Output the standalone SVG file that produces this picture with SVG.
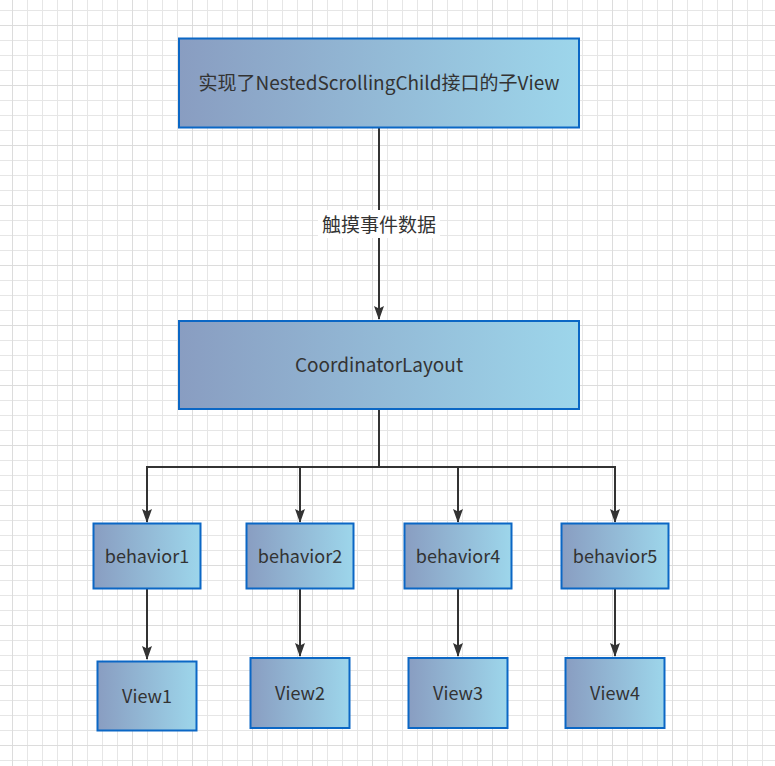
<svg xmlns="http://www.w3.org/2000/svg" width="775" height="766" viewBox="0 0 775 766">
<defs>
  <pattern id="grid" x="12" y="10" width="15" height="15" patternUnits="userSpaceOnUse">
    <path d="M0.5 0 V15 M0 0.5 H15" fill="none" stroke="#e6e6e6" stroke-width="1"/>
  </pattern>
  <pattern id="gridMajor" x="12" y="25" width="60" height="60" patternUnits="userSpaceOnUse">
    <path d="M0.5 0 V60 M0 0.5 H60" fill="none" stroke="#dcdcdc" stroke-width="1"/>
  </pattern>
  <linearGradient id="fill" x1="0" y1="0" x2="1" y2="0">
    <stop offset="0" stop-color="#899dc1"/>
    <stop offset="1" stop-color="#9dd6eb"/>
  </linearGradient>
  <marker id="arrow" viewBox="0 0 14 10" refX="13" refY="5" markerWidth="14" markerHeight="10" markerUnits="userSpaceOnUse" orient="auto">
    <path d="M0 0 L14 5 L0 10 L2.5 5 Z" fill="#333333"/>
  </marker>
  <style>
    .box { fill: url(#fill); stroke: #0b67c5; stroke-width: 2; }
    .label { font-family: "Noto Sans CJK SC", "Noto Sans", sans-serif; fill: #333333; text-anchor: middle; dominant-baseline: central; }
    .big { font-size: 19px; }
    .small { font-size: 18px; }
    .edge { fill: none; stroke: #333333; stroke-width: 2; }
  </style>
</defs>
<rect width="775" height="766" fill="#ffffff"/>
<rect width="775" height="766" fill="url(#grid)"/>
<rect width="775" height="766" fill="url(#gridMajor)"/>

<g id="connectors">
  <path class="edge" d="M379 128 V319" marker-end="url(#arrow)"/>
  <rect x="318" y="210" width="122" height="28" fill="#ffffff"/>
  <text class="label big" x="379" y="223">触摸事件数据</text>
  <path class="edge" d="M379 409 V467 H147 V522" marker-end="url(#arrow)"/>
  <path class="edge" d="M379 467 H300 V522" marker-end="url(#arrow)"/>
  <path class="edge" d="M379 467 H458 V522" marker-end="url(#arrow)"/>
  <path class="edge" d="M379 467 H615 V522" marker-end="url(#arrow)"/>
  <path class="edge" d="M147 589 V659" marker-end="url(#arrow)"/>
  <path class="edge" d="M300 589 V656" marker-end="url(#arrow)"/>
  <path class="edge" d="M458 589 V656" marker-end="url(#arrow)"/>
  <path class="edge" d="M615 589 V656" marker-end="url(#arrow)"/>
</g>

<g id="child-view">
  <rect class="box" x="179" y="38.5" width="400" height="89"/>
  <text class="label big" x="379" y="81.5">实现了NestedScrollingChild接口的子View</text>
</g>
<g id="coordinator-layout">
  <rect class="box" x="179" y="321" width="400" height="88"/>
  <text class="label big" x="379" y="363.5">CoordinatorLayout</text>
</g>
<g id="behavior1">
  <rect class="box" x="93.5" y="523.5" width="107" height="65"/>
  <text class="label small" x="147" y="554.5">behavior1</text>
</g>
<g id="behavior2">
  <rect class="box" x="246.5" y="523.5" width="107" height="65"/>
  <text class="label small" x="300" y="554.5">behavior2</text>
</g>
<g id="behavior4">
  <rect class="box" x="404.5" y="523.5" width="107" height="65"/>
  <text class="label small" x="458" y="554.5">behavior4</text>
</g>
<g id="behavior5">
  <rect class="box" x="561.5" y="523.5" width="107" height="65"/>
  <text class="label small" x="615" y="554.5">behavior5</text>
</g>
<g id="view1">
  <rect class="box" x="97.5" y="661.5" width="99" height="69"/>
  <text class="label small" x="147" y="694.5">View1</text>
</g>
<g id="view2">
  <rect class="box" x="250.5" y="658" width="99" height="70"/>
  <text class="label small" x="300" y="691.5">View2</text>
</g>
<g id="view3">
  <rect class="box" x="408.5" y="658" width="99" height="70"/>
  <text class="label small" x="458" y="691.5">View3</text>
</g>
<g id="view4">
  <rect class="box" x="565.5" y="658" width="99" height="70"/>
  <text class="label small" x="615" y="691.5">View4</text>
</g>
</svg>
